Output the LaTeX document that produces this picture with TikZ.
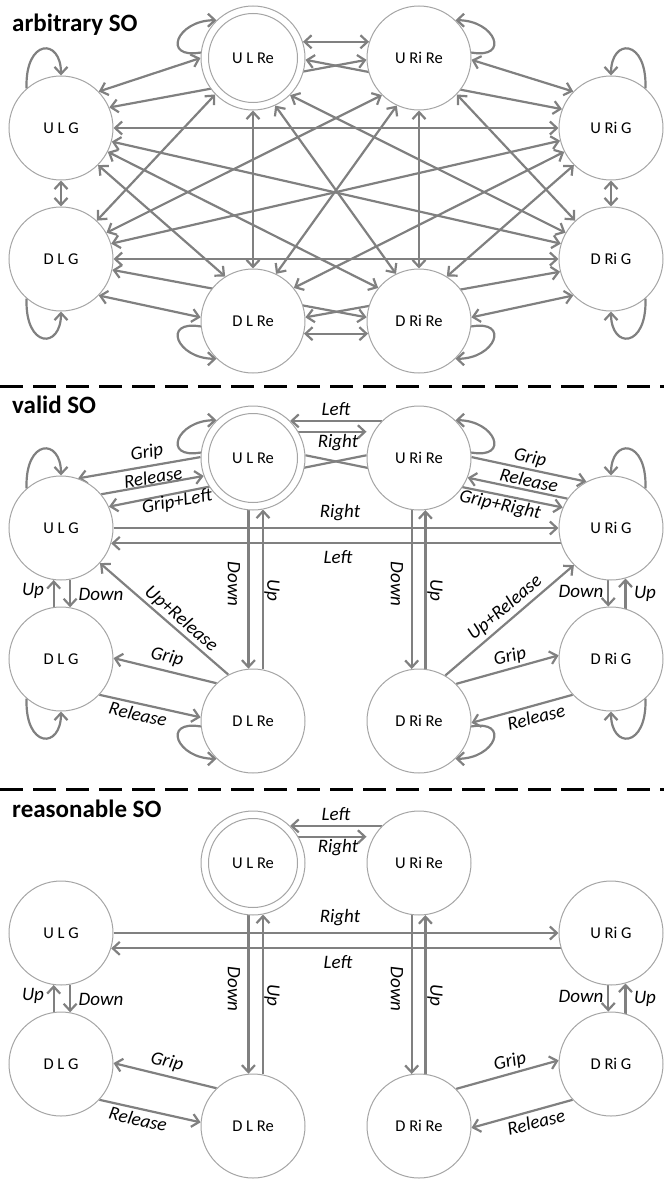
\documentclass[tikz,border=0pt]{standalone}
\usepackage{fontspec}
\setmainfont{Carlito}
\usetikzlibrary{arrows.meta}
\pgfdeclarelayer{edges}
\pgfsetlayers{edges,main}
\definecolor{edgegray}{RGB}{128,128,128}
\definecolor{ringgray}{RGB}{165,165,165}

\tikzset{
  statecirc/.style={circle, draw=ringgray, line width=1pt, fill=white,
    minimum size=104pt, inner sep=0pt, font=\fontsize{16.5}{18}\selectfont},
  conn/.style={draw=edgegray, line width=2.2pt},
  lab/.style={font=\itshape\fontsize{19}{22}\selectfont, inner sep=0pt},
  paneltitle/.style={font=\bfseries\fontsize{25}{28}\selectfont, anchor=base west, inner sep=0pt},
  divider/.style={line width=3pt, dash pattern=on 23pt off 10pt},
  >={Straight Barb[length=7pt,width=13pt]},
}

% the eight states of one panel; #1 = name suffix, #2 = vertical offset
\newcommand\statenodes[2]{%
  \node[statecirc] (ulg#1)  at (61,{128+#2})  {U L G};
  \node[statecirc] (ulre#1) at (253,{58+#2})  {U L Re};
  \draw[ringgray, line width=1pt] (ulre#1.center) circle[radius=44.5pt];
  \node[statecirc] (urre#1) at (419,{58+#2})  {U Ri Re};
  \node[statecirc] (urg#1)  at (611,{128+#2}) {U Ri G};
  \node[statecirc] (dlg#1)  at (61,{259+#2})  {D L G};
  \node[statecirc] (dlre#1) at (253,{321+#2}) {D L Re};
  \node[statecirc] (drre#1) at (419,{321+#2}) {D Ri Re};
  \node[statecirc] (drg#1)  at (611,{259+#2}) {D Ri G};
}

% a self transition on every state
\newcommand\selfloops[1]{%
  \draw[conn,->] (ulg#1.131) .. controls +(92:50pt) and +(90:38pt) .. (ulg#1.90);
  \draw[conn,->] (ulre#1.174) .. controls +(190:40pt) and +(180:40pt) .. (ulre#1.134);
  \draw[conn,->] (urre#1.6) .. controls +(-10:40pt) and +(0:40pt) .. (urre#1.46);
  \draw[conn,->] (urg#1.49) .. controls +(88:50pt) and +(90:38pt) .. (urg#1.90);
  \draw[conn,->] (dlg#1.229) .. controls +(-92:50pt) and +(-90:38pt) .. (dlg#1.270);
  \draw[conn,->] (dlre#1.186) .. controls +(170:40pt) and +(180:40pt) .. (dlre#1.226);
  \draw[conn,->] (drre#1.354) .. controls +(10:40pt) and +(0:40pt) .. (drre#1.314);
  \draw[conn,->] (drg#1.311) .. controls +(-88:50pt) and +(-90:38pt) .. (drg#1.270);
}

% moves shared by the valid and the reasonable panels
\newcommand\basicmoves[1]{%
  \draw[conn,->] (urre#1.135) -- (ulre#1.45);
  \draw[conn,->,shorten >=7pt] (ulre#1.30) -- (urre#1.150);
  \draw[conn,->] (ulg#1.0) -- (urg#1.180);
  \draw[conn,->] (urg#1.197) -- (ulg#1.-17);
  \draw[conn,->] (ulre#1.265) -- (dlre#1.95);
  \draw[conn,->] (dlre#1.79) -- (ulre#1.281);
  \draw[conn,->] (urre#1.262) -- (drre#1.98);
  \draw[conn,->] (drre#1.83) -- (urre#1.277);
  \draw[conn,->] (dlg#1.98) -- (ulg#1.262);
  \draw[conn,->] (ulg#1.280) -- (dlg#1.80);
  \draw[conn,->] (drg#1.74) -- (urg#1.286);
  \draw[conn,->] (urg#1.267) -- (drg#1.93);
  \draw[conn,->] (dlre#1.134) -- (dlg#1.1);
  \draw[conn,->] (dlg#1.-43) -- (dlre#1.176);
  \draw[conn,->] (drre#1.45) -- (drg#1.176);
  \draw[conn,->] (drg#1.223) -- (drre#1.-2);
}

% labels of the shared moves; #1 = suffix, #2 = vertical offset
\newcommand\basiclabels[2]{%
  \node[lab] (lleft#1) at (336,{9+#2}) {Left};
  \node[lab] (lright#1) at (338,{43+#2}) {Right};
  \node[lab] (lrightb#1) at (340,{113+#2}) {Right};
  \node[lab] (lleftb#1) at (338,{157+#2}) {Left};
  \node[lab, rotate=-90] (ldowna#1) at (234,{184+#2}) {Down};
  \node[lab, rotate=-90] (lupa#1) at (272,{190+#2}) {Up};
  \node[lab, rotate=-90] (ldownb#1) at (397,{184+#2}) {Down};
  \node[lab, rotate=-90] (lupb#1) at (435,{190+#2}) {Up};
  \node[lab] (lupc#1) at (33,{191+#2}) {Up};
  \node[lab] (ldownc#1) at (101,{194+#2}) {Down};
  \node[lab] (ldownd#1) at (581,{191+#2}) {Down};
  \node[lab] (lupd#1) at (645,{194+#2}) {Up};
  \node[lab, rotate=-13] (lgripa#1) at (167,{257+#2}) {Grip};
  \node[lab, rotate=-13] (lrela#1) at (138,{314+#2}) {Release};
  \node[lab, rotate=14] (lgripb#1) at (510,{257+#2}) {Grip};
  \node[lab, rotate=14] (lrelb#1) at (536,{317+#2}) {Release};
}

\begin{document}
\begin{tikzpicture}[x=1pt, y=-1pt]
\useasboundingbox (0,0) rectangle (664,1180);

% ---------------- arbitrary SO ----------------
\node[paneltitle] (t1) at (12,32) {arbitrary SO};
\statenodes{1}{0}
\selfloops{1}
\begin{pgfonlayer}{edges}
  \draw[conn,<->] (ulg1.44) -- (ulre1.180);
  \draw[conn,<->] (ulg1.23) -- (urre1.182);
  \draw[conn,<->] (ulg1.0) -- (urg1.180);
  \draw[conn,<->] (ulg1.270) -- (dlg1.90);
  \draw[conn,<->] (ulg1.-45) -- (dlre1.122);
  \draw[conn,<->] (ulg1.-27) -- (drre1.141);
  \draw[conn,<->] (ulg1.-15) -- (drg1.163);
  \draw[conn,<->] (ulre1.18) -- (urre1.162);
  \draw[conn,<->] (ulre1.-2) -- (urg1.159);
  \draw[conn,<->] (ulre1.224) -- (dlg1.47);
  \draw[conn,<->] (ulre1.270) -- (dlre1.90);
  \draw[conn,<->] (ulre1.-65) -- (drre1.116);
  \draw[conn,<->] (ulre1.-45) -- (drg1.150);
  \draw[conn,<->] (urre1.-2) -- (urg1.136);
  \draw[conn,<->] (urre1.225) -- (dlg1.30);
  \draw[conn,<->] (urre1.245) -- (dlre1.64);
  \draw[conn,<->] (urre1.270) -- (drre1.90);
  \draw[conn,<->] (urre1.-44) -- (drg1.133);
  \draw[conn,<->] (urg1.194) -- (dlg1.17);
  \draw[conn,<->] (urg1.207) -- (dlre1.39);
  \draw[conn,<->] (urg1.225) -- (drre1.58);
  \draw[conn,<->] (urg1.270) -- (drg1.90);
  \draw[conn,<->] (dlg1.-44) -- (dlre1.176);
  \draw[conn,<->] (dlg1.-12) -- (drre1.176);
  \draw[conn,<->] (dlg1.0) -- (drg1.180);
  \draw[conn,<->] (dlre1.-14) -- (drre1.194);
  \draw[conn,<->] (dlre1.4) -- (drg1.194);
  \draw[conn,<->] (drre1.4) -- (drg1.224);
\end{pgfonlayer}

\draw[divider] (0,386) -- (664,386);

% ---------------- valid SO ----------------
\node[paneltitle] (t2) at (12,413) {valid SO};
\statenodes{2}{400}
\selfloops{2}
\begin{pgfonlayer}{edges}
  \basicmoves{2}
  \draw[conn,->] (ulre2.179) -- (ulg2.71);
  \draw[conn,->] (ulg2.40) -- (ulre2.200);
  \draw[conn,->] (urre2.177) -- (ulg2.24);
  \draw[conn,->] (urre2.1) -- (urg2.118);
  \draw[conn,->] (urg2.146) -- (urre2.-22);
  \draw[conn,->] (ulre2.3) -- (urg2.157);
  \draw[conn,->] (dlre2.118) -- (ulg2.-42);
  \draw[conn,->] (drre2.60) -- (urg2.225);
\end{pgfonlayer}
\basiclabels{2}{400}
\node[lab, rotate=9] (lgripc2) at (147,453) {Grip};
\node[lab, rotate=9] (lrelc2) at (153,477) {Release};
\node[lab, rotate=10] (lgl2) at (177,502) {Grip+Left};
\node[lab, rotate=-12] (lgripd2) at (530,458) {Grip};
\node[lab, rotate=-12] (lreld2) at (529,480) {Release};
\node[lab, rotate=-12] (lgr2) at (500,505) {Grip+Right};
\node[lab, rotate=-41] (lura2) at (181,619) {Up+Release};
\node[lab, rotate=40] (lurb2) at (505,608) {Up+Release};

\draw[divider] (0,789) -- (664,789);

% ---------------- reasonable SO ----------------
\node[paneltitle] (t3) at (12,817) {reasonable SO};
\statenodes{3}{805}
\begin{pgfonlayer}{edges}
  \basicmoves{3}
\end{pgfonlayer}
\basiclabels{3}{805}

\end{tikzpicture}
\end{document}
